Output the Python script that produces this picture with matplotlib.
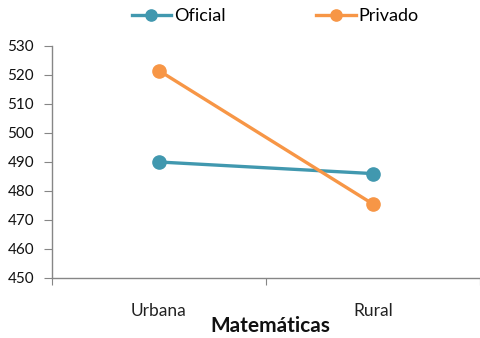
import matplotlib.pyplot as plt
import numpy as np

plt.rcParams['font.family'] = ['Lato', 'DejaVu Sans']

categorias = ['Urbana', 'Rural']
oficial = [490, 486]
privado = [521.5, 475.5]
yticks = [450, 460, 470, 480, 490, 500, 510, 520, 530]

fig = plt.figure(figsize=(4.81, 3.38), dpi=100)
ax = fig.add_axes([52/481, 1-278/338, 428/481, 232/338])

x = np.array([0.5, 1.5])
ax.plot(x, oficial, color='#4198AF', lw=2.4, marker='o', ms=9.5, label='Oficial')
ax.plot(x, privado, color='#F79646', lw=2.4, marker='o', ms=9.5, label='Privado')

ax.set_xlim(0, 2)
ax.set_ylim(450, 530)
ax.set_yticks(yticks)
ax.set_yticklabels([str(v) for v in yticks], fontsize=11, color='#111111')
ax.set_xticks([0, 1, 2])
ax.set_xticklabels([])
ax.set_xticks(x, minor=True)
ax.set_xticklabels(categorias, minor=True, fontsize=12.5, color='#222222')
ax.tick_params(axis='x', which='minor', length=0, pad=18)
ax.tick_params(axis='x', which='major', length=5, color='#868686', direction='out')
ax.tick_params(axis='y', length=6, color='#868686', pad=7)

for s in ['top', 'right']:
    ax.spines[s].set_visible(False)
for s in ['left', 'bottom']:
    ax.spines[s].set_color('#868686')
    ax.spines[s].set_linewidth(1.0)

fig.text(270/481, 1-326/338, 'Matemáticas', ha='center', va='center', fontsize=15, fontweight='bold', color='#111111')

fig.legend(loc='center', bbox_to_anchor=(275/481, 1-16/338), ncol=2, frameon=False,
           fontsize=13, handlelength=2.2, columnspacing=5.0, handletextpad=0.15, markerscale=0.85)

plt.savefig('out.png', dpi=100)
